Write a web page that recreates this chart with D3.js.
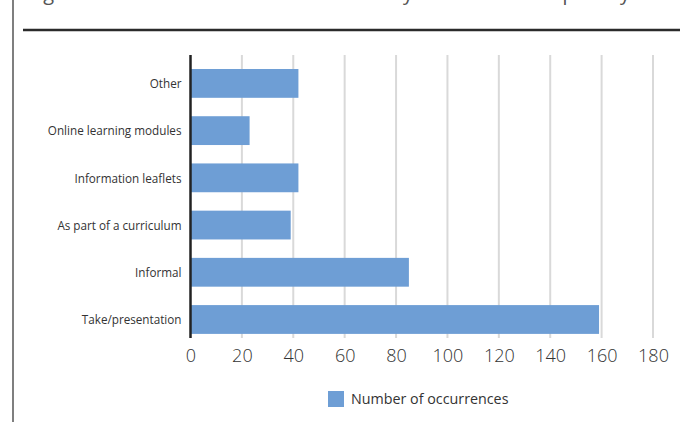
<!DOCTYPE html>
<html><head><meta charset="utf-8">
<script src="https://cdn.jsdelivr.net/npm/d3@7"></script>
<style>body{margin:0;background:#fff}svg{display:block}text{font-family:"Open Sans",sans-serif}</style>
</head><body>
<script>
const categories = ["Other","Online learning modules","Information leaflets","As part of a curriculum","Informal","Take/presentation"];
const values = [42, 23, 42, 39, 85, 159];
const tickValues = [0,20,40,60,80,100,120,140,160,180];
const seriesName = "Number of occurrences";
const title = "Figure 3: Mode of education delivery and their frequency";

const W=680,H=422;
const svg=d3.select("body").append("svg").attr("width",W).attr("height",H);

// frame decorations
svg.append("line").attr("x1",13).attr("x2",13).attr("y1",0).attr("y2",H).attr("stroke","#555").attr("stroke-width",1.5);
svg.append("text").attr("x",25).attr("y",-0.5).attr("font-size",20).attr("fill","#555")
  .attr("textLength",605).attr("lengthAdjust","spacing").text(title);
svg.append("line").attr("x1",23).attr("x2",W).attr("y1",30).attr("y2",30).attr("stroke","#2b2b2b").attr("stroke-width",2.5);

const x=d3.scaleLinear().domain([0,180]).range([190.5,653]);
const y=d3.scaleBand().domain(categories).range([59.8,343.1]).paddingInner(0.39).paddingOuter(0.195);
const gridTop=55, gridBottom=338;

// gridlines
svg.append("g").selectAll("line").data(tickValues.filter(d=>d>0)).join("line")
  .attr("x1",d=>x(d)).attr("x2",d=>x(d)).attr("y1",gridTop).attr("y2",gridBottom)
  .attr("stroke","#d9d9d9").attr("stroke-width",2);

// bars
svg.append("g").selectAll("rect").data(values).join("rect")
  .attr("x",x(0)).attr("y",(d,i)=>y(categories[i]))
  .attr("width",d=>x(d)-x(0)).attr("height",y.bandwidth())
  .attr("fill","#6e9ed5");

// axis line
svg.append("line").attr("x1",x(0)).attr("x2",x(0)).attr("y1",gridTop).attr("y2",gridBottom)
  .attr("stroke","#222").attr("stroke-width",2.5);

// x tick labels
const xa=svg.append("g").attr("transform",`translate(0,${gridBottom})`)
  .call(d3.axisBottom(x).tickValues(tickValues).tickSize(0).tickPadding(11));
xa.select(".domain").remove();
xa.selectAll("text").attr("font-size",18).attr("font-weight",300).attr("fill","#333")
  .attr("font-family","'Open Sans',sans-serif");

// y labels
const ya=svg.append("g").attr("transform",`translate(${x(0)},1)`)
  .call(d3.axisLeft(y).tickSize(0).tickPadding(9));
ya.select(".domain").remove();
ya.selectAll("text").attr("font-size",11.7).attr("fill","#333").attr("font-family","'Open Sans',sans-serif");

// legend
svg.append("rect").attr("x",328).attr("y",391).attr("width",16).attr("height",16).attr("fill","#6e9ed5");
svg.append("text").attr("x",351).attr("y",404).attr("font-size",14.3).attr("fill","#333").text(seriesName);
</script>
</body></html>
